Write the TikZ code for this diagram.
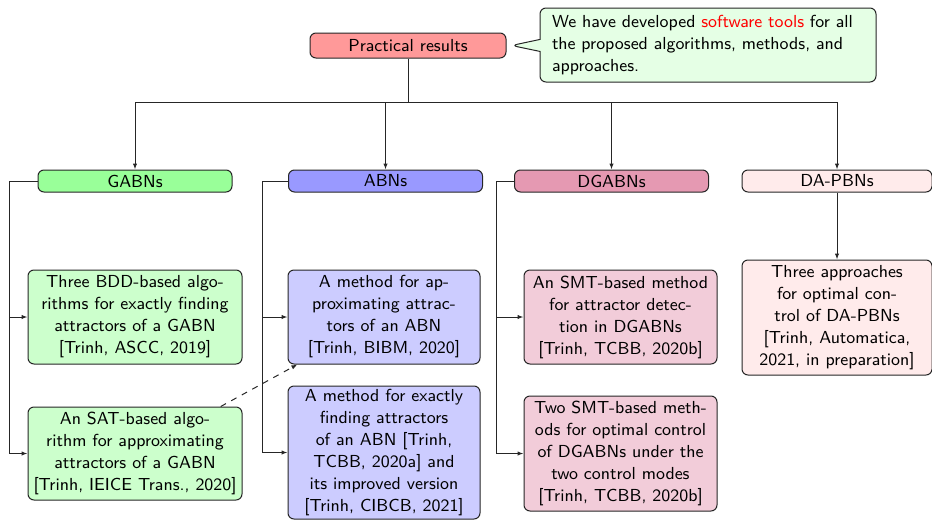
\documentclass[tikz,border=0pt]{standalone}
\usetikzlibrary{arrows.meta,shapes.callouts}
\begin{document}
\begin{tikzpicture}[x=0.5pt,y=-0.5pt,
  every node/.style={font=\fontsize{8.7}{11}\selectfont\sffamily},
  box/.style={draw=black!85, line width=0.5pt, rounded corners=3pt, align=center, inner sep=0pt},
  head/.style={box, minimum width=97pt, minimum height=11pt},
  item/.style={box, minimum width=#1},
  arr/.style={-{Latex[length=3pt,width=2.2pt]}, line width=0.5pt, black!85},
  link/.style={line width=0.5pt, black!85}]
\useasboundingbox (0,0) rectangle (932,520);

% root and remark
\node[box, fill=red!40, minimum width=98pt, minimum height=12.5pt] (pr) at (408,45.5) {Practical results};
\coordinate (tip) at ([xshift=2.5pt]pr.east);
\node[draw=black!85, line width=0.5pt, fill=green!10, rounded corners=3pt,
      rectangle callout, callout absolute pointer=(tip), callout pointer width=6pt,
      text width=156pt, align=left, inner xsep=6pt, minimum height=37pt] (note) at (708,45)
  {We have developed \textcolor{red}{software tools} for all\\the proposed algorithms, methods, and\\approaches.};

% categories
\node[head, fill=green!40] (gabns) at (135,181) {GABNs};
\node[head, fill=blue!40] (abns) at (385.5,181) {ABNs};
\node[head, fill=purple!40] (dgabns) at (611.5,181) {DGABNs};
\node[head, fill=red!8, minimum width=95pt] (dapbns) at (837,181) {DA-PBNs};

% results
\node[item=107pt, minimum height=47pt, fill=green!20] (gabn1) at (135,317)
  {Three BDD-based algo-\\rithms for exactly finding\\attractors of a GABN\\{}[Trinh, ASCC, 2019]};
\node[item=107pt, minimum height=46.5pt, fill=green!20] (gabn2) at (135,453.5)
  {An SAT-based algo-\\rithm for approximating\\attractors of a GABN\\{}[Trinh, IEICE Trans., 2020]};
\node[item=96pt, minimum height=47pt, fill=blue!20] (abn1) at (384,317)
  {A method for ap-\\proximating attrac-\\tors of an ABN\\{}[Trinh, BIBM, 2020]};
\node[item=96pt, minimum height=66.5pt, fill=blue!20] (abn2) at (384,452.5)
  {A method for exactly\\finding attractors\\of an ABN [Trinh,\\TCBB, 2020a] and\\its improved version\\{}[Trinh, CIBCB, 2021]};
\node[item=96.5pt, minimum height=47pt, fill=purple!20] (dg1) at (620.5,317)
  {An SMT-based method\\for attractor detec-\\tion in DGABNs\\{}[Trinh, TCBB, 2020b]};
\node[item=96.5pt, minimum height=57.5pt, fill=purple!20] (dg2) at (620.5,453.5)
  {Two SMT-based meth-\\ods for optimal control\\of DGABNs under the\\two control modes\\{}[Trinh, TCBB, 2020b]};
\node[item=95pt, minimum height=57.5pt, fill=red!8] (dap) at (837,317.5)
  {Three approaches\\for optimal con-\\trol of DA-PBNs\\{}[Trinh, Automatica,\\2021, in preparation]};

% tree connectors
\coordinate (hub) at (408,102);
\draw[link] (pr) -- (hub);
\draw[arr] (hub) -| (gabns);
\draw[arr] (hub) -| (abns);
\draw[arr] (hub) -| (dgabns);
\draw[arr] (hub) -| (dapbns);

\draw[arr] (gabns.west) -- ++(-28,0) |- (gabn1);
\draw[arr] (gabns.west) -- ++(-28,0) |- (gabn2);
\draw[arr] (abns.west) -- ++(-26,0) |- (abn1);
\draw[arr] (abns.west) -- ++(-26,0) |- (abn2);
\draw[arr] (dgabns.west) -- ++(-18,0) |- (dg1);
\draw[arr] (dgabns.west) -- ++(-18,0) |- (dg2);
\draw[arr] (dapbns) -- (dap);

\draw[arr, dashed] (gabn2) -- (abn1);
\end{tikzpicture}
\end{document}
